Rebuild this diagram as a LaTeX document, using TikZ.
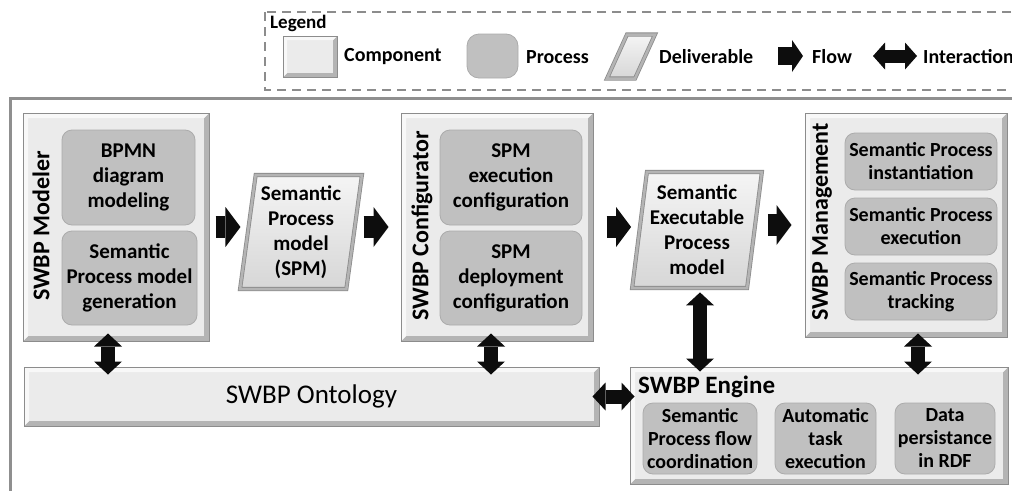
\documentclass[tikz,border=0pt]{standalone}
\usepackage{fontspec}
\setmainfont{Carlito}
\usetikzlibrary{arrows.meta,shapes.geometric,calc}
\definecolor{edge}{HTML}{8C8C8C}
\definecolor{face}{HTML}{EBEBEB}
\definecolor{bevlight}{HTML}{F8F8F8}
\definecolor{bevdark}{HTML}{B4B4B4}
\definecolor{procfill}{HTML}{C0C0C0}
\definecolor{procedge}{HTML}{ABABAB}
\definecolor{framegray}{HTML}{8F8F8F}
\definecolor{arrowblack}{HTML}{0D0D0D}
\tikzset{
  bevel/.style={path picture={
     \coordinate (bsw) at (path picture bounding box.south west);
     \coordinate (bne) at (path picture bounding box.north east);
     \fill[bevdark] (bsw) -| (bne) -- ([shift={(-#1,-#1)}]bne) |- ([shift={(#1,#1)}]bsw) -- cycle;
     \fill[bevlight] (bsw) |- (bne) -- ([shift={(-#1,-#1)}]bne) -| ([shift={(#1,#1)}]bsw) -- cycle;
  }},
  bevel/.default=5pt,
  component/.style={rectangle, draw=edge, line width=1pt, fill=face, bevel, inner sep=0pt},
  process/.style={rectangle, rounded corners=10pt, draw=procedge, line width=0.8pt, fill=procfill,
     inner sep=0pt, align=center, font=\bfseries\fontsize{21}{25}\selectfont},
  smallproc/.style={process, font=\bfseries\fontsize{20}{23}\selectfont},
  deliverable/.style={trapezium, trapezium stretches=true, draw=edge, line width=0.8pt,
     double=bevdark, double distance=2.5pt, top color=white!96!black, bottom color=white!84!black,
     inner sep=2pt, align=center, font=\bfseries\fontsize{21}{25}\selectfont},
  title/.style={inner sep=0pt, font=\bfseries\fontsize{24}{28}\selectfont},
  legtext/.style={anchor=west, inner sep=0pt, font=\bfseries\fontsize{20}{24}\selectfont},
  flow/.style={draw=arrowblack, line width=22pt, -{Triangle[length=15pt,width=40pt,line width=0pt]}},
  inter/.style={draw=arrowblack, line width=14pt,
     {Triangle[length=13pt,width=28pt,line width=0pt]}-{Triangle[length=13pt,width=28pt,line width=0pt]}},
}
\begin{document}
\begin{tikzpicture}[x=1pt,y=-1pt]
\useasboundingbox (0,0) rectangle (1012,490);
\fill[white] (0,0) rectangle (1012,490);

% outer frame
\draw[framegray, line width=3pt] (10,500) -- (10,98.5) -- (1030,98.5);

% legend
\draw[edge, dash pattern=on 9pt off 6pt, line width=1.2pt] (265,12) rectangle (1040,90);
\node[legtext, font=\bfseries\fontsize{19}{22}\selectfont] (legtitle) at (270,23) {Legend};
\node[component, minimum width=54pt, minimum height=41pt, bevel=4pt] (lcomp) at (310,56.5) {};
\node[legtext] (lcomptxt) at (344,57) {Component};
\node[process, rounded corners=12pt, minimum width=51pt, minimum height=44pt] (lproc) at (492.5,56) {};
\node[legtext] (lproctxt) at (526,57) {Process};
\node[deliverable, minimum width=48pt, minimum height=44pt, trapezium left angle=71, trapezium right angle=109] (ldel) at (631,56.5) {\strut};
\node[legtext] (ldeltxt) at (659,57) {Deliverable};
\coordinate (lf1) at (778,56);
\coordinate (lf2) at (803,56);
\draw[flow, line width=18pt, -{Triangle[length=11pt,width=32pt,line width=0pt]}] (lf1) -- (lf2);
\node[legtext] (lflowtxt) at (812,57) {Flow};
\coordinate (li1) at (873,56);
\coordinate (li2) at (917,56);
\draw[inter, line width=13pt, {Triangle[length=12pt,width=27pt,line width=0pt]}-{Triangle[length=12pt,width=27pt,line width=0pt]}] (li1) -- (li2);
\node[legtext] (linttxt) at (923,57) {Interaction};

% SWBP Modeler
\node[component, minimum width=186pt, minimum height=228pt] (modeler) at (116,227) {};
\node[process, minimum width=133pt, minimum height=95pt] (bpmn) at (128.5,177.5) {BPMN\\diagram\\modeling};
\node[process, minimum width=135pt, minimum height=94pt] (spmgen) at (129.5,278) {Semantic\\Process model\\generation};
\node[title, rotate=90] (modtitle) at (41,226) {SWBP Modeler};

% SPM deliverable
\node[deliverable, minimum width=122pt, minimum height=114pt, trapezium left angle=81.5, trapezium right angle=98.5] (spm) at (301,232) {Semantic\\Process\\model\\(SPM)};

% SWBP Configurator
\node[component, minimum width=192pt, minimum height=228pt] (configurator) at (497,227) {};
\node[process, minimum width=142pt, minimum height=95pt] (spmexec) at (511,177.5) {SPM\\execution\\configuration};
\node[process, minimum width=142pt, minimum height=94pt] (spmdeploy) at (511,278) {SPM\\deployment\\configuration};
\node[title, rotate=90] (conftitle) at (422,226) {SWBP Configurator};

% Executable deliverable
\node[deliverable, minimum width=130pt, minimum height=116pt, trapezium left angle=81.2, trapezium right angle=98.8] (exec) at (697,230) {Semantic\\Executable\\Process\\model};

% SWBP Management
\node[component, minimum width=202pt, minimum height=224pt] (management) at (906,225) {};
\node[smallproc, minimum width=152pt, minimum height=57pt] (spinst) at (921,161.5) {Semantic Process\\instantiation};
\node[smallproc, minimum width=152pt, minimum height=57pt] (spexe) at (921,226.5) {Semantic Process\\execution};
\node[smallproc, minimum width=152pt, minimum height=57pt] (sptrack) at (921,291.5) {Semantic Process\\tracking};
\node[title, rotate=90] (mgmttitle) at (822,222) {SWBP Management};

% SWBP Ontology
\node[component, minimum width=575pt, minimum height=59pt, font=\fontsize{27}{32}\selectfont] (ontology) at (311.5,396.5) {SWBP Ontology};

% SWBP Engine
\node[component, minimum width=378pt, minimum height=117pt] (engine) at (819,425.5) {};
\node[title, anchor=west, font=\bfseries\fontsize{25}{30}\selectfont] (enginetitle) at (638,387) {SWBP Engine};
\node[smallproc, minimum width=114pt, minimum height=71pt] (spflow) at (700,438.5) {Semantic\\Process flow\\coordination};
\node[smallproc, minimum width=101pt, minimum height=71pt] (autotask) at (825.5,438.5) {Automatic\\task\\execution};
\node[smallproc, minimum width=100pt, minimum height=71pt] (datapers) at (945,438.5) {Data\\persistance\\in RDF};

% flows
\draw[flow] ([xshift=6pt]modeler.east) -- ([xshift=-7pt]modeler.east -| spm.west);
\draw[flow] ([xshift=9pt]spm.east |- configurator.west) -- ([xshift=-12pt]configurator.west);
\draw[flow] ([xshift=13pt]configurator.east) -- ([xshift=-8pt]configurator.east -| exec.west);
\draw[flow] ([xshift=13pt]exec.east |- management.west) -- ([xshift=-13pt]management.west);

% interactions
\draw[inter] ([xshift=-8pt,yshift=8pt]modeler.south) -- ([xshift=-8pt,yshift=-8pt]modeler.south |- ontology.north);
\draw[inter] ([xshift=-6pt,yshift=8pt]configurator.south) -- ([xshift=-6pt,yshift=-8pt]configurator.south |- ontology.north);
\draw[inter] ([xshift=12pt,yshift=4pt]management.south) -- ([xshift=12pt,yshift=-8pt]management.south |- engine.north);
\draw[inter] ([xshift=3pt,yshift=-4pt]exec.south) -- ([xshift=3pt,yshift=-5pt]exec.south |- engine.north);
\draw[inter] ([xshift=-7pt]ontology.east) -- ([xshift=5pt]ontology.east -| engine.west);
\end{tikzpicture}
\end{document}
